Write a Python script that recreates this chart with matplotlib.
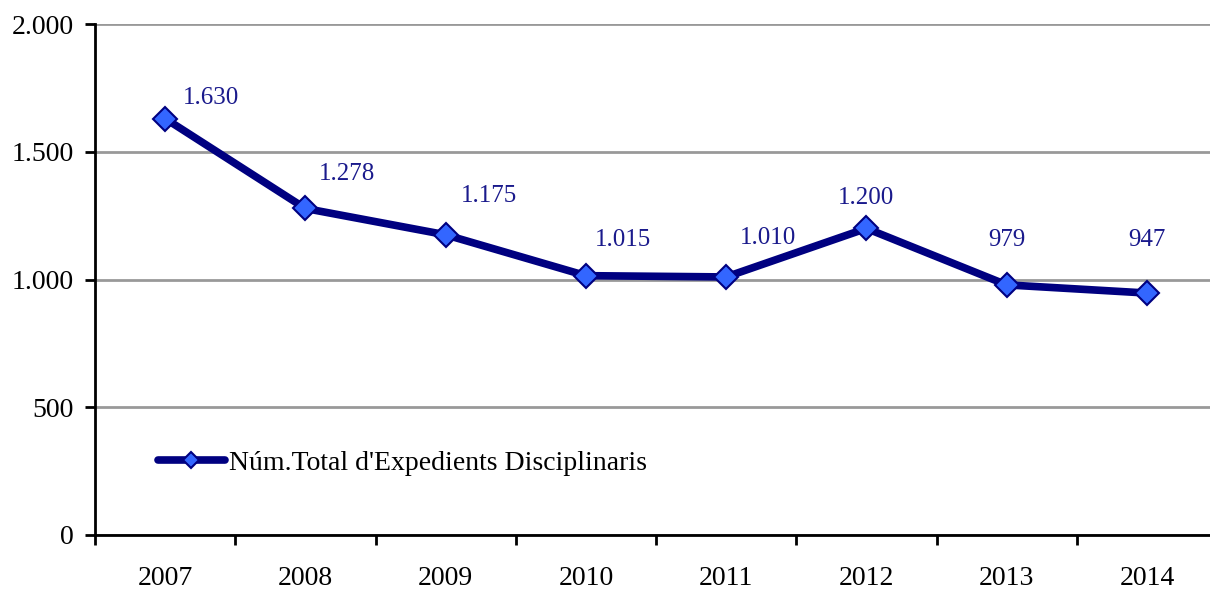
import matplotlib
matplotlib.use('Agg')
import matplotlib.pyplot as plt
import numpy as np

years = ['2007', '2008', '2009', '2010', '2011', '2012', '2013', '2014']
expedients = [1630, 1278, 1175, 1015, 1010, 1200, 979, 947]
value_labels = ['1.630', '1.278', '1.175', '1.015', '1.010', '1.200', '979', '947']
y_ticks = [0, 500, 1000, 1500, 2000]
y_tick_labels = ['0', '500', '1.000', '1.500', '2.000']
series_name = "Núm.Total d'Expedients Disciplinaris"

# label offsets in points (hand placed in the original)
label_dx = [33, 30, 31, 27, 30, 0, 0, 0]
label_dy = [15, 25, 28, 26, 28, 22, 32, 38]

plt.rcParams['font.family'] = ['Liberation Serif', 'DejaVu Serif']

fig = plt.figure(figsize=(12.1, 5.89), dpi=100)
ax = fig.add_axes([95 / 1210, 1 - 535 / 589, (1210 - 95) / 1210, (535 - 24) / 589])

x = np.arange(len(years))
ax.plot(x, expedients, color='#000080', linewidth=5.5, marker='D', markersize=12,
        markerfacecolor='#3366FF', markeredgecolor='#000080', markeredgewidth=1.5,
        solid_capstyle='round', label=series_name, zorder=3)

for xi, v, lab, dx, dy in zip(x, expedients, value_labels, label_dx, label_dy):
    ax.annotate(lab, (xi, v), xytext=(dx, dy), textcoords='offset points',
                ha='center', va='center', fontsize=18, color='#1a1a8c')

ax.set_xlim(-0.5, 7.45)
ax.set_ylim(0, 2000)
ax.set_yticks(y_ticks)
ax.set_yticklabels(y_tick_labels)
ax.set_xticks(x)
ax.set_xticklabels(years)
ax.set_xticks(np.arange(-0.5, 7.5, 1), minor=True)
ax.tick_params(axis='x', which='major', length=0, pad=22, labelsize=20)
ax.tick_params(axis='x', which='minor', length=7, width=2, direction='out')
ax.tick_params(axis='y', length=7, width=2, direction='out', pad=8, labelsize=20)

ax.grid(axis='y', color='#999999', linewidth=2)
ax.set_axisbelow(True)
for s in ['top', 'right']:
    ax.spines[s].set_visible(False)
for s in ['left', 'bottom']:
    ax.spines[s].set_linewidth(2)
    ax.spines[s].set_zorder(4)

ax.legend(loc='center left', bbox_to_anchor=(0.034, 0.14), frameon=False, fontsize=20,
          markerscale=0.7, handlelength=2.4, handletextpad=0.15)

fig.savefig('out.png', dpi=100)
